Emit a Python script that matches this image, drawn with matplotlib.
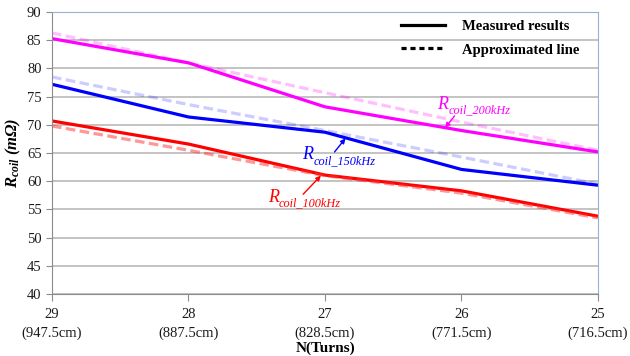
import matplotlib
matplotlib.use("Agg")
import matplotlib.pyplot as plt
from matplotlib.lines import Line2D

plt.rcParams['font.family'] = ['Liberation Serif', 'DejaVu Serif']
plt.rcParams['mathtext.fontset'] = 'custom'
plt.rcParams['mathtext.rm'] = 'Liberation Serif'
plt.rcParams['mathtext.it'] = 'Liberation Serif:italic'
plt.rcParams['mathtext.bf'] = 'Liberation Serif:bold'
plt.rcParams['mathtext.bfit'] = 'Liberation Serif:bold:italic'

# Number of turns and corresponding wire lengths
turns = [29, 28, 27, 26, 25]
lengths = ["947.5cm", "887.5cm", "828.5cm", "771.5cm", "716.5cm"]

# Measured coil resistance (mΩ)
meas_100k = [70.7, 66.6, 61.1, 58.3, 53.8]
meas_150k = [77.2, 71.4, 68.7, 62.1, 59.3]
meas_200k = [85.3, 81.0, 73.2, 69.0, 65.2]

# Approximated resistance (mΩ)
appr_100k = [69.8, 65.5, 61.0, 57.9, 53.5]
appr_150k = [78.5, 73.6, 69.0, 64.3, 59.5]
appr_200k = [86.3, 81.0, 75.7, 70.5, 65.5]

fig = plt.figure(figsize=(6.3, 3.56), dpi=100)
ax = fig.add_axes([0.0825, 0.174, 0.8667, 0.792])

ax.set_ylim(40, 90)
ax.set_xlim(29, 25)
ax.set_yticks(range(40, 91, 5))
ax.set_xticks(turns)
ax.set_xticklabels([f"{t}\n({l})" for t, l in zip(turns, lengths)], linespacing=1.55)

ax.grid(axis='y', color='#bebebe', linewidth=1.3)
ax.set_axisbelow(True)
for s in ('left', 'bottom'):
    ax.spines[s].set_color('#8c8c8c')
for s in ('top', 'right'):
    ax.spines[s].set_color('#95b3d7')
ax.tick_params(axis='both', colors='#8c8c8c', labelcolor='#1a1a1a', labelsize=10.5, length=4)
ax.tick_params(axis='x', length=5, pad=5)

lw = 2.3
ax.plot(turns, meas_200k, color='#ff00ff', lw=lw, solid_capstyle='butt')
ax.plot(turns, meas_150k, color='#0000ff', lw=lw, solid_capstyle='butt')
ax.plot(turns, meas_100k, color='#ff0000', lw=lw, solid_capstyle='butt')

dash = (3, 1.4)
ax.plot(turns, appr_200k, color='#ff00ff', alpha=0.25, lw=lw, dashes=dash)
ax.plot(turns, appr_150k, color='#0000ff', alpha=0.2, lw=lw, dashes=dash)
ax.plot(turns, appr_100k, color='#ff3030', alpha=0.5, lw=lw, dashes=dash)

# Curve labels: italic R with an italic subscript, plus an arrow to the curve
labels = [
    ('coil_200kHz', '#ff00ff', (26.18, 72.8), (26.05, 71.6), (26.12, 69.5)),
    ('coil_150kHz', '#0000ff', (27.17, 63.9), (26.93, 65.2), (26.85, 67.6)),
    ('coil_100kHz', '#ff0000', (27.42, 56.4), (27.16, 57.7), (27.03, 61.0)),
]
fig.canvas.draw()
renderer = fig.canvas.get_renderer()
for sub, col, tpos, tail, head in labels:
    r = ax.text(*tpos, 'R', color=col, fontsize=13, fontstyle='italic',
                ha='left', va='baseline')
    w_pt = r.get_window_extent(renderer).width * 72 / fig.dpi
    ax.annotate(sub, xy=tpos, xycoords='data', xytext=(w_pt + 0.3, -3.2),
                textcoords='offset points', color=col, fontsize=8.8,
                fontstyle='italic', ha='left', va='baseline')
    ax.annotate('', xy=head, xytext=tail,
                arrowprops=dict(arrowstyle='-|>', color=col, lw=1.0,
                                mutation_scale=7, shrinkA=0, shrinkB=0))

ax.set_xlabel('N(Turns)', fontsize=11, fontweight='bold', labelpad=1)
ax.set_ylabel(r'$\mathbfit{R}_{\mathbfit{coil}}\ \mathbfit{(m\Omega)}$', fontsize=12, labelpad=3)

handles = [Line2D([], [], color='black', lw=2.3),
           Line2D([], [], color='black', lw=2.3, dashes=(1.6, 1.2))]
ax.legend(handles, ['Measured results', 'Approximated line'], loc='upper right',
          bbox_to_anchor=(0.99, 1.02), frameon=False, handlelength=3.0,
          prop=dict(weight='bold', size=10.5), labelspacing=0.72, handletextpad=1.2)

fig.savefig('out.png', dpi=100)
